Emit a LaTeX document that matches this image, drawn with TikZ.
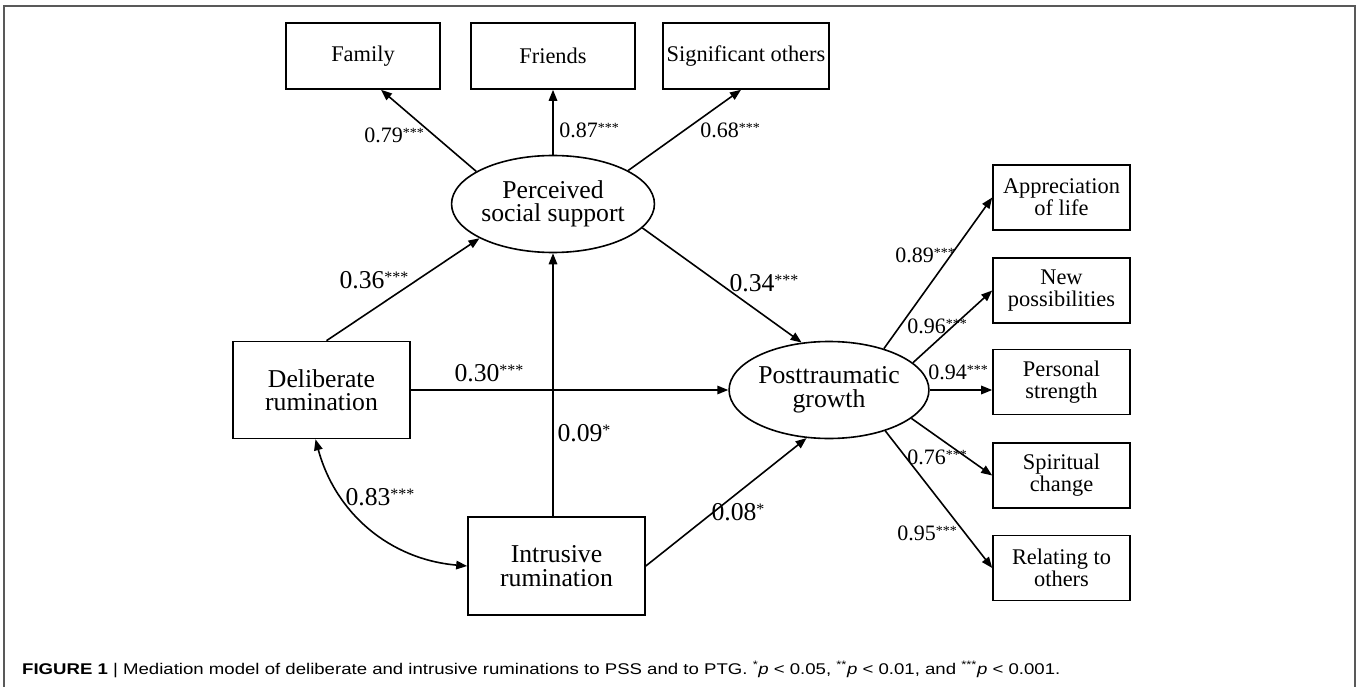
\documentclass[tikz,border=0pt]{standalone}
\usepackage{fontspec}
\setmainfont{Liberation Serif}
\newfontfamily\capfont[FakeStretch=1.2]{Liberation Sans}
\usetikzlibrary{shapes.geometric,arrows.meta,calc}
\newcommand{\sA}[1]{\raisebox{5pt}{\fontsize{14}{14}\selectfont #1}}
\newcommand{\sB}[1]{\raisebox{6pt}{\fontsize{16}{16}\selectfont #1}}
\begin{document}
\begin{tikzpicture}[x=1pt,y=-1pt,
  box/.style={draw,line width=1.6pt,inner sep=0pt,align=center},
  bigtxt/.style={font=\fontsize{25.7}{23.5}\selectfont},
  smalltxt/.style={font=\fontsize{22.4}{22}\selectfont},
  lat/.style={ellipse,draw,line width=1.6pt,inner sep=0pt,minimum width=199pt,minimum height=97pt,align=center,bigtxt},
  rbox/.style={box,smalltxt,minimum width=137pt,minimum height=65pt},
  tbox/.style={box,smalltxt,minimum height=66pt},
  lbox/.style={box,bigtxt,minimum width=177pt,minimum height=97pt},
  arr/.style={line width=1.6pt,-{Triangle[length=11pt,width=8.5pt]}},
  dblarr/.style={line width=1.6pt,{Triangle[length=11pt,width=8.5pt]}-{Triangle[length=11pt,width=8.5pt]}},
  coefs/.style={font=\fontsize{22}{22}\selectfont,inner sep=0pt},
  coefb/.style={font=\fontsize{25.7}{26}\selectfont,inner sep=0pt}]
\useasboundingbox (0,0) rectangle (1357,687);
\draw[gray!70!black,line width=1.5pt] (4,687) -- (4,6) -- (1355,6) -- (1355,687);

% top indicators
\node[tbox,minimum width=154pt] (fam) at (363,56) {Family};
\node[tbox,minimum width=164pt] (fri) at (553,56) {Friends};
\node[tbox,minimum width=166pt] (sig) at (746,56) {Significant others};

% latent variables
\node[lat] (pss) at (553,204) {Perceived\\social support};
\node[lat] (ptg) at (829,390) {Posttraumatic\\growth};

% predictors
\node[lbox] (del) at (321.5,390) {Deliberate\\rumination};
\node[lbox,minimum height=98pt] (intr) at (556.5,566) {Intrusive\\rumination};

% right indicators
\node[rbox] (app) at (1061.5,197.5) {Appreciation\\of life};
\node[rbox] (newp) at (1061.5,290.5) {New\\possibilities};
\node[rbox] (pers) at (1061.5,382) {Personal\\strength};
\node[rbox] (spir) at (1061.5,475.5) {Spiritual\\change};
\node[rbox] (rel) at (1061.5,568) {Relating to\\others};

% connectors
\draw[arr] (pss.157) -- ($(fam.south)+(18,0)$);
\draw[arr] (pss.north) -- (fri.south);
\draw[arr] (pss.24) -- ($(sig.south)+(-5,0)$);
\draw[arr] ($(del.north)+(5,0)$) -- (pss.205);
\draw[arr] (pss.-15) -- (ptg.120);
\draw[arr] (del.east) -- (ptg.west);
\draw[arr] (intr.north -| pss.south) -- (pss.south);
\draw[arr] (intr.east) -- (ptg.245);
\draw[dblarr] ($(del.south)+(-6,0)$) to[bend right=35] (intr.west);

\draw[arr] (ptg.37.5) -- (app.west);
\draw[arr] (ptg.18) -- (newp.west);
\draw[arr] (ptg.east) -- (ptg.east -| pers.west);
\draw[arr] (ptg.-19.7) -- (spir.west);
\draw[arr] (ptg.-36.5) -- (rel.west);

% coefficients
\node[coefs] (c1) at (394,135) {0.79\sA{***}};
\node[coefs] (c2) at (589,130) {0.87\sA{***}};
\node[coefs] (c3) at (730,130) {0.68\sA{***}};
\node[coefb] (c4) at (374,280) {0.36\sB{***}};
\node[coefb] (c5) at (764,283) {0.34\sB{***}};
\node[coefb] (c6) at (489,373) {0.30\sB{***}};
\node[coefb] (c7) at (584,433) {0.09\sB{*}};
\node[coefb] (c8) at (380,497) {0.83\sB{***}};
\node[coefb] (c9) at (738,512) {0.08\sB{*}};
\node[coefs] (c10) at (925,255) {0.89\sA{***}};
\node[coefs] (c11) at (937,326) {0.96\sA{***}};
\node[coefs] (c12) at (958,372) {0.94\sA{***}};
\node[coefs] (c13) at (937,457) {0.76\sA{***}};
\node[coefs] (c14) at (927,533) {0.95\sA{***}};

% caption
\node[anchor=base west,inner sep=0pt,font=\capfont\fontsize{15.5}{16}\selectfont] (cap) at (22,674)
  {\textbf{FIGURE 1} | Mediation model of deliberate and intrusive ruminations to PSS and to PTG. \textsuperscript{*}\textit{p} < 0.05, \textsuperscript{**}\textit{p} < 0.01, and \textsuperscript{***}\textit{p} < 0.001.};
\end{tikzpicture}
\end{document}
